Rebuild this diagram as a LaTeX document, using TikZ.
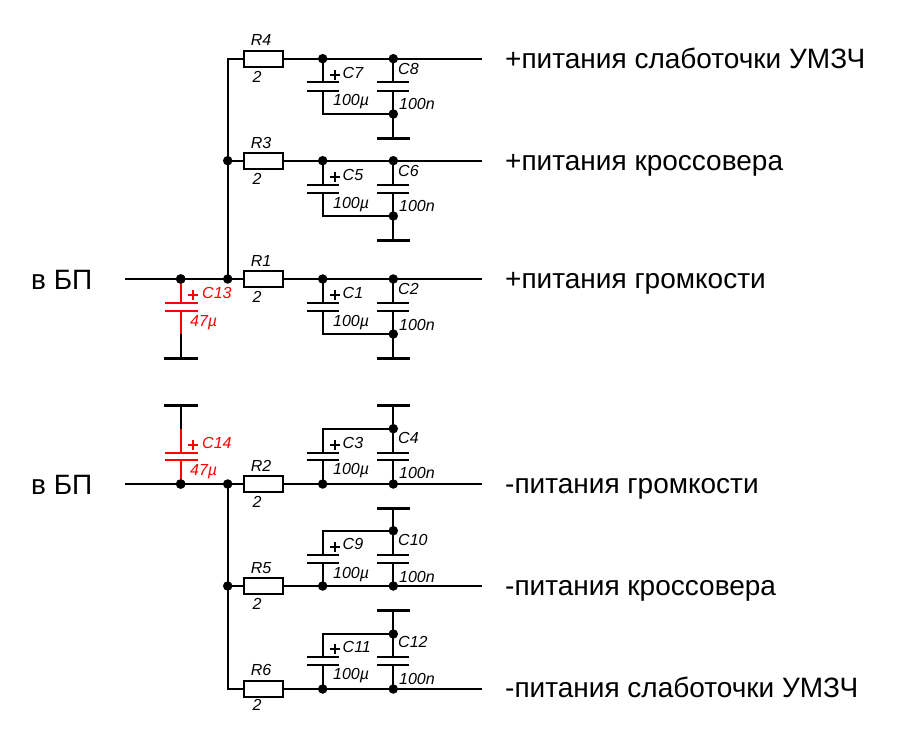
\documentclass[tikz,border=0pt]{standalone}
\usepackage{fontspec}
\setmainfont{Liberation Sans}
\tikzset{
  x=1pt,y=-1pt,
  wire/.style={line width=2pt,line join=miter,line cap=rect},
  plate/.style={line width=2.2pt},
  gnd/.style={line width=3pt},
  dot/.style={circle,fill=black,draw=none,inner sep=0pt,minimum size=9.5pt},
  res/.style={rectangle,draw,line width=2pt,fill=white,inner sep=0pt,minimum width=39pt,minimum height=16pt},
  lab/.style={anchor=west,inner sep=0pt,text height=11.5pt,text depth=0pt,font=\fontsize{16}{17}\selectfont\itshape},
  clab/.style={anchor=center,inner sep=0pt,text height=11.5pt,text depth=0pt,font=\fontsize{16}{17}\selectfont\itshape},
  big/.style={anchor=west,inner sep=0pt,text height=20pt,text depth=0pt,font=\fontsize{28}{30}\selectfont},
}
\newcommand{\schemrow}[6]{%
  \coordinate (e#1) at (481,#2);
  \coordinate (ga#1) at (377,#3);
  \coordinate (gb#1) at (410,#3);
  \coordinate (g#1) at (393.3,#3);
  \coordinate (pa#1) at (322.7,#5);
  \coordinate (qa#1) at (322.7,#6);
  \coordinate (pb#1) at (393.3,#5);
  \coordinate (qb#1) at (393.3,#6);
  \coordinate (ra#1) at (263.5,#2);
  \draw[wire] (ra#1) -- (e#1);
  \node[res] (R#1) at (263.5,#2) {};
  \node[dot] (a#1) at (322.7,#2) {};
  \node[dot] (b#1) at (393.3,#2) {};
  \node[dot] (j#1) at (393.3,#4) {};
  \draw[wire] (a#1) -- (pa#1) (qa#1) |- (j#1);
  \draw[wire] (b#1) -- (pb#1) (qb#1) -- (j#1) -- (g#1);
  \draw[gnd] (ga#1) -- (gb#1);
  \draw[plate] (306.7,#5) -- (338.7,#5) (306.7,#6) -- (338.7,#6);
  \draw[plate] (377.3,#5) -- (409.3,#5) (377.3,#6) -- (409.3,#6);
}
\newcommand{\plusmark}[3]{\draw[#3,line width=2pt] (#1-5,#2) -- (#1+5,#2) (#1,#2-5) -- (#1,#2+5);}
\begin{document}
\begin{tikzpicture}
\useasboundingbox (0,0) rectangle (898,747);
\schemrow{4}{58.7}{138}{114}{82.3}{90.7}
\schemrow{3}{160.7}{240.5}{216}{184.7}{193}
\schemrow{1}{279}{358}{334}{302.7}{311}
\schemrow{2}{484}{405.3}{428.7}{460}{452.7}
\schemrow{5}{586}{508}{530.7}{562.7}{555}
\schemrow{6}{689}{610}{634}{664.7}{656.7}
\node[dot] (t3) at (227.7,160.7) {};
\node[dot] (t1) at (227.7,279) {};
\node[dot] (t2) at (227.7,484) {};
\node[dot] (t5) at (227.7,586) {};
\coordinate (t4) at (227.7,58.7);
\coordinate (t6) at (227.7,689);
\draw[wire] (R4.west) -- (t4) -- (t3) -- (t1);
\draw[wire] (R3.west) -- (t3);
\draw[wire] (R1.west) -- (t1);
\draw[wire] (R2.west) -- (t2);
\draw[wire] (R5.west) -- (t5);
\draw[wire] (R6.west) -- (t6) -- (t5) -- (t2);
\coordinate (i1) at (126,279);
\coordinate (i2) at (126,484);
\node[dot] (c13) at (180.7,279) {};
\node[dot] (c14) at (180.7,484) {};
\draw[wire] (i1) -- (c13) -- (t1);
\draw[wire] (i2) -- (c14) -- (t2);
\coordinate (c13a) at (180.7,302.7);
\coordinate (c13b) at (180.7,311);
\coordinate (c13c) at (180.7,333);
\coordinate (c13g) at (180.7,358);
\draw[wire] (c13c) -- (c13g);
\draw[wire,red] (c13) -- (c13a) (c13b) -- (c13c);
\draw[plate,red] (165,302.7) -- (197.5,302.7) (165,311) -- (197.5,311);
\draw[gnd] (164,358) -- (198,358);
\coordinate (c14a) at (180.7,460);
\coordinate (c14b) at (180.7,452.7);
\coordinate (c14c) at (180.7,430);
\coordinate (c14g) at (180.7,405.3);
\draw[wire] (c14c) -- (c14g);
\draw[wire,red] (c14) -- (c14a) (c14b) -- (c14c);
\draw[plate,red] (165,460) -- (197.5,460) (165,452.7) -- (197.5,452.7);
\draw[gnd] (164,405.3) -- (198,405.3);
\node[dot] at (c13) {};
\node[dot] at (c14) {};
\plusmark{335}{75}{black}
\plusmark{335}{177}{black}
\plusmark{335}{295}{black}
\plusmark{335}{445}{black}
\plusmark{335}{547}{black}
\plusmark{335}{649}{black}
\plusmark{193}{295}{red}
\plusmark{193}{445}{red}
\node[clab] (lR4) at (261,40) {R4};
\node[clab] (vR4) at (257,77) {2};
\node[clab] (lR3) at (261,143) {R3};
\node[clab] (vR3) at (257,179) {2};
\node[clab] (lR1) at (261,261) {R1};
\node[clab] (vR1) at (257,297) {2};
\node[clab] (lR2) at (261,466) {R2};
\node[clab] (vR2) at (257,502) {2};
\node[clab] (lR5) at (261,568) {R5};
\node[clab] (vR5) at (257,604) {2};
\node[clab] (lR6) at (261,670) {R6};
\node[clab] (vR6) at (257,705) {2};
\node[lab] (lC7) at (342.5,72.7) {C7};
\node[lab] (vC7) at (333,100) {100µ};
\node[lab] (lC8) at (398,69) {C8};
\node[lab] (vC8) at (399,104) {100n};
\node[lab] (lC5) at (342.5,175) {C5};
\node[lab] (vC5) at (333,203) {100µ};
\node[lab] (lC6) at (398,171) {C6};
\node[lab] (vC6) at (399,206) {100n};
\node[lab] (lC1) at (342.5,293) {C1};
\node[lab] (vC1) at (333,321) {100µ};
\node[lab] (lC2) at (398,289) {C2};
\node[lab] (vC2) at (399,325) {100n};
\node[lab] (lC3) at (342.5,442.7) {C3};
\node[lab] (vC3) at (333,469) {100µ};
\node[lab] (lC4) at (398,438) {C4};
\node[lab] (vC4) at (399,473) {100n};
\node[lab] (lC9) at (342.5,544) {C9};
\node[lab] (vC9) at (333,572.7) {100µ};
\node[lab] (lC10) at (398,540) {C10};
\node[lab] (vC10) at (399,577) {100n};
\node[lab] (lC11) at (342.5,647) {C11};
\node[lab] (vC11) at (333,674) {100µ};
\node[lab] (lC12) at (398,642) {C12};
\node[lab] (vC12) at (399,679) {100n};
\node[lab,text=red] (lC13) at (202,292.7) {C13};
\node[lab,text=red] (vC13) at (190,321) {47µ};
\node[lab,text=red] (lC14) at (202,442.7) {C14};
\node[lab,text=red] (vC14) at (190,470) {47µ};
\node[big] (o4) at (505,58.5) {+питания слаботочки УМЗЧ};
\node[big] (o3) at (505,160.5) {+питания кроссовера};
\node[big] (o1) at (505,278.5) {+питания громкости};
\node[big] (o2) at (505,483.5) {-питания громкости};
\node[big] (o5) at (505,585.5) {-питания кроссовера};
\node[big] (o6) at (505,687.5) {-питания слаботочки УМЗЧ};
\node[big] (in1) at (31,279.5) {в БП};
\node[big] (in2) at (31,484.5) {в БП};
\end{tikzpicture}
\end{document}
